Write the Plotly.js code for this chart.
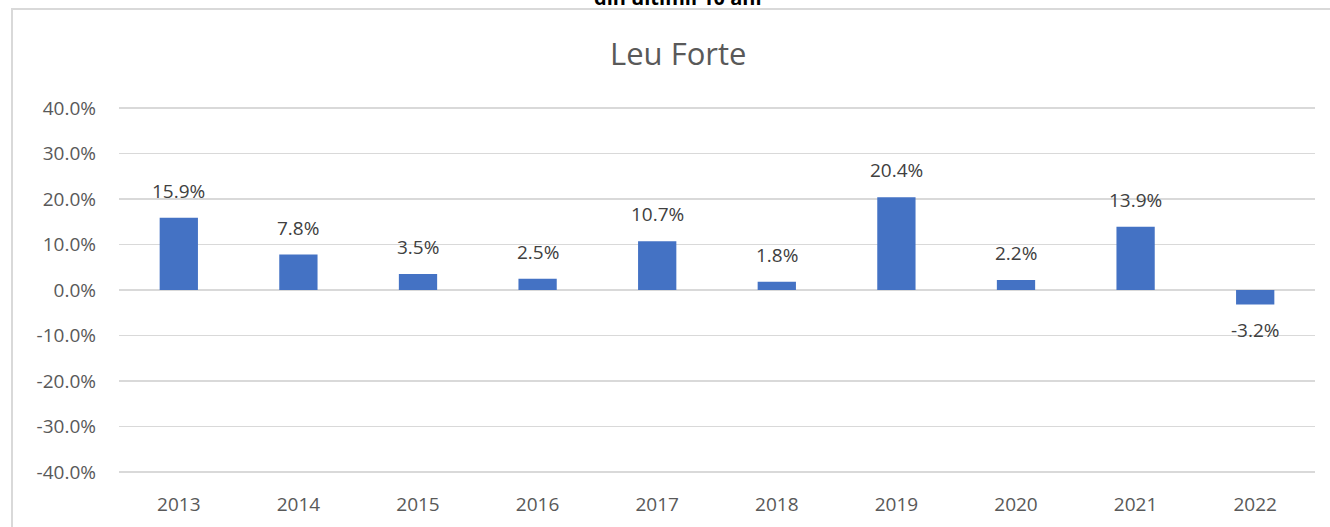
<!DOCTYPE html>
<html>
<head>
<meta charset="utf-8">
<script src="https://cdn.plot.ly/plotly-3.0.1.min.js"></script>
<style>html,body{margin:0;padding:0;background:#fff;}#chart{width:1330px;height:527px;}</style>
</head>
<body>
<div id="chart"></div>
<script>
const years = ['2013','2014','2015','2016','2017','2018','2019','2020','2021','2022'];
const values = [15.9, 7.8, 3.5, 2.5, 10.7, 1.8, 20.4, 2.2, 13.9, -3.2];
const yTickVals = [-40,-30,-20,-10,0,10,20,30,40];
const yTickText = yTickVals.map(v => v.toFixed(1) + '%');
const chartTitle = 'Leu Forte';
const topText = 'din ultimii 10 ani';

const W = 1330, H = 527;
const ext = 0.25;
const unitPx = 364 / 80;
const mL = 119, mR = 15;
const mT = Math.round(108 - ext * unitPx), mB = Math.round(55 - ext * unitPx);
const pw = W - mL - mR, ph = H - mT - mB;
const px2x = p => (p - mL) / pw;
const py2y = p => (H - mB - p) / ph;

const FONT = 'Open Sans, sans-serif';

const labelAnns = values.map((v, i) => ({
  x: i, y: v, xref: 'x', yref: 'y',
  text: v.toFixed(1) + '%',
  showarrow: false,
  yanchor: v >= 0 ? 'bottom' : 'top',
  yshift: v >= 0 ? 12 : -10,
  font: {family: FONT, size: 19, color: '#404040'}
}));

const data = [{
  type: 'bar', x: years.map((_, i) => i), y: values,
  marker: {color: '#4472C4'},
  width: 0.32,
  hoverinfo: 'none'
}];

const layout = {
  width: W, height: H,
  margin: {l: mL, r: mR, t: mT, b: mB},
  paper_bgcolor: '#fff', plot_bgcolor: '#fff',
  showlegend: false,
  xaxis: {
    type: 'linear', range: [-0.5, 9.5],
    tickvals: years.map((_, i) => i), ticktext: years,
    showgrid: false, zeroline: false, showline: false,
    ticks: '', ticklabelstandoff: 18,
    tickfont: {family: FONT, size: 19, color: '#595959'},
    fixedrange: true
  },
  yaxis: {
    range: [-40 - ext, 40 + ext], tickvals: yTickVals, ticktext: yTickText,
    showgrid: true, gridcolor: '#d9d9d9', gridwidth: 1.5,
    zeroline: true, zerolinecolor: '#d9d9d9', zerolinewidth: 1.5,
    showline: false, ticks: '', ticklabelstandoff: 22,
    tickfont: {family: FONT, size: 19, color: '#595959'},
    fixedrange: true
  },
  shapes: [{
    type: 'rect', xref: 'paper', yref: 'paper',
    x0: px2x(12), x1: px2x(1345), y0: py2y(540), y1: py2y(9),
    line: {color: '#d9d9d9', width: 2}, fillcolor: 'rgba(0,0,0,0)', layer: 'below'
  }],
  annotations: [
    {xref: 'paper', yref: 'paper', x: px2x(678), y: py2y(53), xanchor: 'center', yanchor: 'middle',
     text: chartTitle, showarrow: false,
     font: {family: FONT, size: 31, color: '#595959'}},
    {xref: 'paper', yref: 'paper', x: px2x(678), y: py2y(13), xanchor: 'center', yanchor: 'bottom',
     text: '<b>' + topText + '</b>', showarrow: false,
     font: {family: FONT, size: 20, color: '#000'}}
  ].concat(labelAnns)
};

Plotly.newPlot('chart', data, layout, {displayModeBar: false, staticPlot: true});
</script>
</body>
</html>
